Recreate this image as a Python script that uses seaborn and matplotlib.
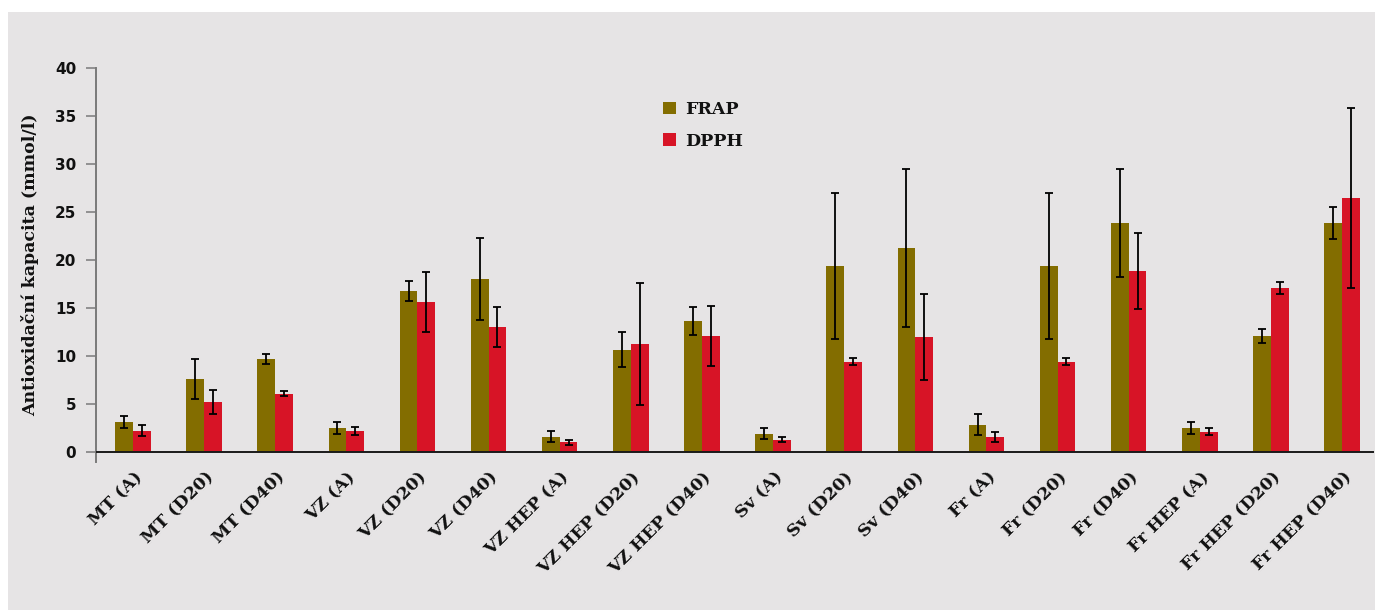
import matplotlib
matplotlib.use("Agg")
import matplotlib.pyplot as plt
import matplotlib.transforms as mtransforms
from matplotlib.patches import Rectangle
import pandas as pd
import seaborn as sns

# Sample groups and the two antioxidant assays (mean and SD, mmol/l)
categories = ["MT (A)", "MT (D20)", "MT (D40)", "VZ (A)", "VZ (D20)", "VZ (D40)",
              "VZ HEP (A)", "VZ HEP (D20)", "VZ HEP (D40)", "Sv (A)", "Sv (D20)",
              "Sv (D40)", "Fr (A)", "Fr (D20)", "Fr (D40)", "Fr HEP (A)",
              "Fr HEP (D20)", "Fr HEP (D40)"]
frap = [3.1, 7.6, 9.7, 2.5, 16.75, 18.0, 1.6, 10.65, 13.65, 1.9, 19.35, 21.25,
        2.85, 19.35, 23.85, 2.5, 12.1, 23.85]
frap_sd = [0.6, 2.1, 0.55, 0.6, 1.05, 4.3, 0.6, 1.8, 1.5, 0.6, 7.6, 8.2,
           1.05, 7.6, 5.65, 0.6, 0.7, 1.65]
dpph = [2.2, 5.2, 6.05, 2.15, 15.6, 13.0, 1.0, 11.2, 12.1, 1.25, 9.4, 12.0,
        1.55, 9.4, 18.85, 2.1, 17.1, 26.45]
dpph_sd = [0.57, 1.2, 0.27, 0.43, 3.1, 2.05, 0.23, 6.35, 3.1, 0.26, 0.35, 4.48,
           0.52, 0.35, 3.95, 0.38, 0.62, 9.35]
series = ["FRAP", "DPPH"]
y_ticks = [0, 5, 10, 15, 20, 25, 30, 35, 40]

BG = "#e6e4e5"
COLORS = {"FRAP": "#836d00", "DPPH": "#d71426"}
SERIF = "DejaVu Serif"
SANS = "DejaVu Sans"
TXT = "#111111"

sns.set_theme(style="white")
plt.rcParams["font.family"] = [SERIF]

W, H = 1375, 610
fig = plt.figure(figsize=(W / 100, H / 100), dpi=100, facecolor="white")
panel = Rectangle((8 / W, 0), 1 - 8 / W, 1 - 12 / H, transform=fig.transFigure,
                  facecolor=BG, edgecolor="none", zorder=-10)
fig.patches.append(panel)
ax = fig.add_axes([96 / W, 1 - 462 / H, 1278 / W, (462 - 68) / H])
ax.set_zorder(1)
ax.set_facecolor(BG)

df = pd.DataFrame({
    "category": categories * 2,
    "method": [series[0]] * len(categories) + [series[1]] * len(categories),
    "value": frap + dpph,
})
sns.barplot(data=df, x="category", y="value", hue="method", order=categories,
            hue_order=series, palette=COLORS, width=0.5, errorbar=None,
            saturation=1, linewidth=0, ax=ax, zorder=2)

# Error bars centred on each drawn bar
for container, sd in zip(ax.containers, [frap_sd, dpph_sd]):
    xs = [b.get_x() + b.get_width() / 2 for b in container]
    hs = [b.get_height() for b in container]
    ax.errorbar(xs, hs, yerr=sd, fmt="none", ecolor="black", elinewidth=1.3,
                capsize=3, capthick=1.3, zorder=3)

ax.set_ylim(-1.05, 40)
ax.set_xlim(-0.52, 17.45)
ax.set_yticks(y_ticks)
ax.set_yticklabels([str(t) for t in y_ticks], family=SANS, fontweight="bold",
                   fontsize=11, color=TXT)

for side in ("top", "right", "bottom"):
    ax.spines[side].set_visible(False)
ax.spines["left"].set_color("#7a7a7a")
ax.spines["left"].set_linewidth(1.4)
ax.axhline(0, color="#1a1a1a", lw=1.4, zorder=4)

ax.tick_params(axis="y", direction="out", length=7.2, width=1.1,
               color="#7a7a7a", pad=7, left=True)
ax.tick_params(axis="x", length=0, pad=10)

ax.set_xticks(range(len(categories)))
ax.set_xticklabels(categories, rotation=45, ha="right", va="center",
                   rotation_mode="anchor", fontweight="bold", fontsize=12.5,
                   color=TXT)
shift = mtransforms.ScaledTranslation(7 / 100, 1 / 100, fig.dpi_scale_trans)
for lbl in ax.get_xticklabels():
    lbl.set_transform(lbl.get_transform() + shift)

ax.set_xlabel("")
ax.set_ylabel("Antioxidační kapacita (mmol/l)", fontsize=12.5,
              fontweight="bold", color=TXT, labelpad=11)

leg = ax.legend(frameon=False, loc="upper left",
                bbox_to_anchor=(663 / W, 1 - 101 / H),
                bbox_transform=fig.transFigure,
                prop={"weight": "bold", "size": 12.5, "family": SERIF},
                handlelength=0.75, handleheight=0.75, handletextpad=0.55,
                labelspacing=0.85, borderpad=0, borderaxespad=0)
for t in leg.get_texts():
    t.set_color(TXT)

fig.savefig("out.png", dpi=100, facecolor="white")
